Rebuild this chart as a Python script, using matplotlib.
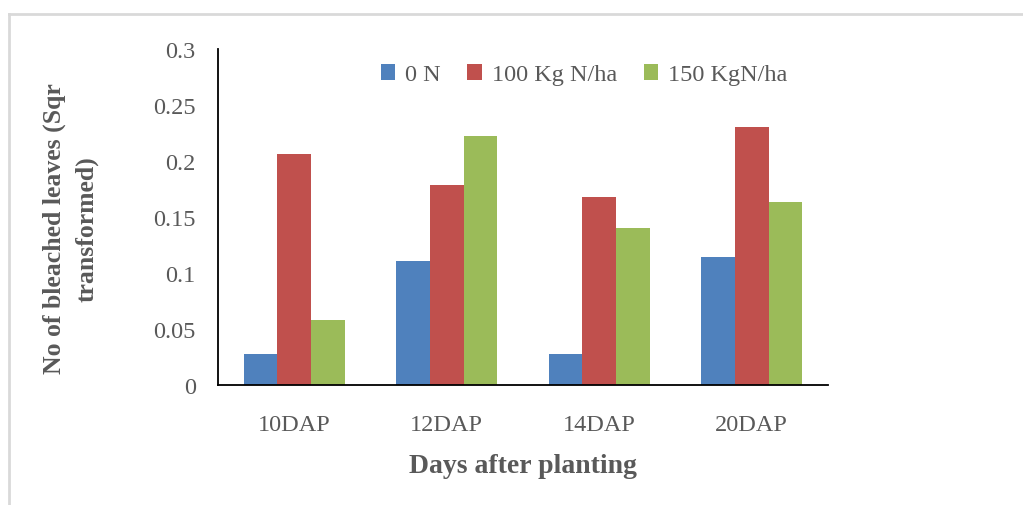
import matplotlib.pyplot as plt
import numpy as np
from matplotlib.lines import Line2D

# Datos
dias = ["10DAP", "12DAP", "14DAP", "20DAP"]
serie_0N = [0.028, 0.111, 0.028, 0.114]
serie_100N = [0.206, 0.179, 0.168, 0.230]
serie_150N = [0.058, 0.222, 0.140, 0.163]
nombres = ["0 N", "100 Kg N/ha", "150 KgN/ha"]
colores = ["#4F81BD", "#C0504D", "#9BBB59"]

plt.rcParams['font.family'] = ['Liberation Serif', 'DejaVu Serif']

fig = plt.figure(figsize=(10.23, 5.06), dpi=100)
ax = fig.add_axes([0.2131, 0.2372, 0.5963, 0.664])

x = np.arange(len(dias))
ancho = 0.22
series = [serie_0N, serie_100N, serie_150N]
for i in range(3):
    ax.bar(x + (i - 1) * ancho, series[i], ancho, color=colores[i], label=nombres[i])

ax.set_xlim(-0.5, 3.5)
ax.set_ylim(0, 0.3)
ax.set_yticks([0, 0.05, 0.1, 0.15, 0.2, 0.25, 0.3])
ax.set_yticklabels(["0", "0.05", "0.1", "0.15", "0.2", "0.25", "0.3"])
ax.set_xticks(x)
ax.set_xticklabels(dias)
ax.tick_params(axis="both", length=0, labelsize=17.5, colors="#595959")
ax.tick_params(axis="y", pad=16)
ax.tick_params(axis="x", pad=21)

for lado in ["top", "right"]:
    ax.spines[lado].set_visible(False)
ax.spines["left"].set_linewidth(1.3)
ax.spines["bottom"].set_linewidth(1.3)

ax.set_xlabel("Days after planting", fontsize=20, fontweight="bold", color="#595959", labelpad=13)
fig.text(0.069, 0.548, "No of bleached leaves (Sqr\ntransformed)", rotation=90,
         fontsize=18.5, fontweight="bold", color="#595959", ha="center", va="center",
         multialignment="center", linespacing=1.5)

ax.legend(loc="upper center", bbox_to_anchor=(0.6, 1.02), ncol=3, frameon=False,
          fontsize=17.5, handlelength=0.6, handleheight=0.6, handletextpad=0.4,
          columnspacing=1.1, labelcolor="#595959")

# marco gris del gráfico
fig.add_artist(Line2D([9 / 1023, 9 / 1023], [1 - 505 / 506, 1 - 15 / 506], color="#d9d9d9", lw=2))
fig.add_artist(Line2D([9 / 1023, 1.0], [1 - 15 / 506, 1 - 15 / 506], color="#d9d9d9", lw=2))

fig.savefig("out.png", dpi=100)
